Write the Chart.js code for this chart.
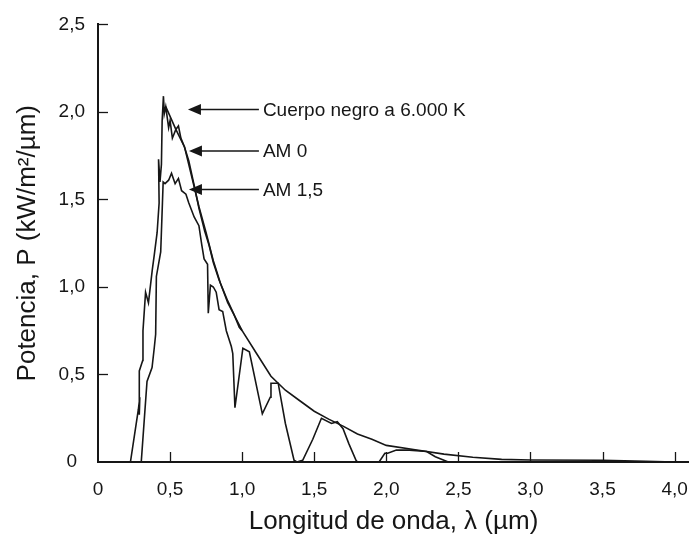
<!DOCTYPE html>
<html>
<head>
<meta charset="utf-8">
<script src="https://cdn.jsdelivr.net/npm/chart.js@4.4.1/dist/chart.umd.min.js"></script>
<style>
  body { margin: 0; background: #fff; }
  .wrap { width: 689px; height: 542px; }
</style>
</head>
<body>
<div class="wrap"><canvas id="chart"></canvas></div>
<script>
// wavelength (um) / power (kW/m2/um)
const bbWave = [0.47, 0.54, 0.60, 0.65, 0.70, 0.75, 0.80, 0.85, 0.90, 1.00, 1.10, 1.20, 1.30, 1.40, 1.50, 1.60, 1.70, 1.80, 1.90, 2.00, 2.20, 2.40, 2.60, 2.80, 3.00, 3.50, 3.80, 4.00];
const bbPower = [2.03, 1.90, 1.80, 1.63, 1.46, 1.31, 1.15, 1.02, 0.91, 0.75, 0.62, 0.49, 0.41, 0.35, 0.29, 0.245, 0.205, 0.16, 0.13, 0.095, 0.07, 0.045, 0.027, 0.015, 0.011, 0.01, 0.004, 0];

const am0Wave = [0.225, 0.28, 0.29, 0.288, 0.285, 0.31, 0.312, 0.33, 0.35, 0.377, 0.39, 0.41, 0.424, 0.42, 0.43, 0.44, 0.445, 0.454, 0.46, 0.47, 0.49, 0.50, 0.516, 0.54, 0.558, 0.575, 0.60, 0.63, 0.67, 0.70, 0.74, 0.77, 0.80, 0.84, 0.875, 0.90, 0.94, 0.98, 1.00];
const am0Power = [0, 0.30, 0.37, 0.27, 0.52, 0.58, 0.75, 0.97, 0.91, 1.10, 1.18, 1.31, 1.48, 1.73, 1.60, 1.70, 1.95, 2.09, 1.99, 2.03, 1.91, 1.95, 1.85, 1.90, 1.92, 1.85, 1.80, 1.72, 1.57, 1.45, 1.32, 1.24, 1.14, 1.04, 0.97, 0.92, 0.85, 0.77, 0.75];

const am15Wave = [0.30, 0.34, 0.375, 0.39, 0.40, 0.405, 0.435, 0.447, 0.452, 0.465, 0.49, 0.51, 0.535, 0.558, 0.58, 0.61, 0.63, 0.667, 0.70, 0.72, 0.736, 0.76, 0.765, 0.78, 0.80, 0.82, 0.84, 0.865, 0.89, 0.925, 0.935, 0.95, 1.005, 1.05, 1.14, 1.195, 1.20, 1.25, 1.30, 1.36, 1.38, 1.42, 1.49, 1.55, 1.62, 1.66, 1.70, 1.74, 1.79, 1.80, 1.95, 1.99, 2.01, 2.07, 2.16, 2.28, 2.34, 2.43];
const am15Power = [0, 0.46, 0.54, 0.65, 0.73, 1.06, 1.20, 1.48, 1.60, 1.59, 1.61, 1.65, 1.59, 1.62, 1.55, 1.53, 1.48, 1.40, 1.35, 1.24, 1.16, 1.13, 0.85, 1.01, 1.00, 0.97, 0.87, 0.86, 0.75, 0.66, 0.62, 0.31, 0.65, 0.63, 0.275, 0.37, 0.45, 0.45, 0.22, 0.01, 0, 0.01, 0.13, 0.25, 0.22, 0.23, 0.19, 0.105, 0.01, 0, 0, 0.05, 0.05, 0.068, 0.068, 0.06, 0.03, 0];

const seriesNames = ['Cuerpo negro a 6.000 K', 'AM 0', 'AM 1,5'];

const font = "'Liberation Sans', Arial, sans-serif";
const ink = '#161616';

function toPoints(xs, ys) {
  return xs.map((x, i) => ({ x: x, y: ys[i] }));
}

function fmt(v) {
  return v === 0 ? '0' : v.toFixed(1).replace('.', ',');
}

// arrows with labels, placed in data units
const notes = [
  { tip: 0.624, y: 2.014 },
  { tip: 0.631, y: 1.777 },
  { tip: 0.631, y: 1.557 }
];
const noteTextX = 1.144;

const notesPlugin = {
  id: 'notes',
  afterDatasetsDraw(chart) {
    const ctx = chart.ctx;
    const xs = chart.scales.x, ys = chart.scales.y;
    const tx = xs.getPixelForValue(noteTextX);
    ctx.save();
    ctx.strokeStyle = ink;
    ctx.fillStyle = ink;
    ctx.lineWidth = 1.5;
    notes.forEach((n, i) => {
      const px = xs.getPixelForValue(n.tip);
      const py = ys.getPixelForValue(n.y);
      ctx.beginPath();
      ctx.moveTo(px + 10, py);
      ctx.lineTo(tx - 4, py);
      ctx.stroke();
      ctx.beginPath();
      ctx.moveTo(px, py);
      ctx.lineTo(px + 13, py - 5.5);
      ctx.lineTo(px + 13, py + 5.5);
      ctx.closePath();
      ctx.fill();
      ctx.font = '19px ' + font;
      ctx.textBaseline = 'middle';
      ctx.textAlign = 'left';
      ctx.fillText(seriesNames[i], tx, py + 1);
    });
    ctx.restore();
  },
  afterDraw(chart) {
    // inward tick marks
    const ctx = chart.ctx;
    const a = chart.chartArea;
    ctx.save();
    ctx.strokeStyle = ink;
    ctx.lineWidth = 1.3;
    chart.scales.y.ticks.forEach((t) => {
      if (t.value === 0) return;
      const p = Math.round(chart.scales.y.getPixelForValue(t.value)) + 0.5;
      ctx.beginPath();
      ctx.moveTo(a.left, p);
      ctx.lineTo(a.left + 10, p);
      ctx.stroke();
    });
    chart.scales.x.ticks.forEach((t) => {
      if (t.value === 0) return;
      const p = Math.round(chart.scales.x.getPixelForValue(t.value)) + 0.5;
      ctx.beginPath();
      ctx.moveTo(p, a.bottom);
      ctx.lineTo(p, a.bottom - 10);
      ctx.stroke();
    });
    ctx.restore();
  }
};

const lineStyle = {
  showLine: true,
  borderColor: ink,
  borderWidth: 1.6,
  pointRadius: 0,
  tension: 0,
  fill: false
};

new Chart(document.getElementById('chart'), {
  type: 'scatter',
  data: {
    datasets: [
      Object.assign({ label: seriesNames[0], data: toPoints(bbWave, bbPower) }, lineStyle),
      Object.assign({ label: seriesNames[1], data: toPoints(am0Wave, am0Power) }, lineStyle),
      Object.assign({ label: seriesNames[2], data: toPoints(am15Wave, am15Power) }, lineStyle)
    ]
  },
  options: {
    responsive: true,
    maintainAspectRatio: false,
    animation: false,
    layout: { padding: { top: 19, right: 0, bottom: 0, left: 0 } },
    plugins: { legend: { display: false }, tooltip: { enabled: false } },
    scales: {
      x: {
        type: 'linear',
        min: 0,
        max: 4.1,
        afterFit: (axis) => {
          axis.height = 80;
          axis.paddingRight = 0;
          axis.paddingLeft = 0;
        },
        grid: { display: false, drawTicks: false },
        border: { display: true, color: ink, width: 2 },
        ticks: {
          stepSize: 0.5,
          includeBounds: false,
          padding: 16,
          color: ink,
          font: { family: font, size: 19 },
          callback: (v) => fmt(v)
        },
        title: {
          display: true,
          text: 'Longitud de onda, λ (µm)',
          color: ink,
          font: { family: font, size: 26 },
          padding: { top: 0, bottom: 5 }
        }
      },
      y: {
        min: 0,
        max: 2.5,
        afterFit: (axis) => { axis.width = 98; },
        grid: { display: false, drawTicks: false },
        border: { display: true, color: ink, width: 2 },
        ticks: {
          stepSize: 0.5,
          padding: 13,
          crossAlign: 'center',
          color: ink,
          font: { family: font, size: 19 },
          callback: (v) => fmt(v)
        },
        title: {
          display: true,
          text: 'Potencia, P (kW/m²/µm)',
          color: ink,
          font: { family: font, size: 26 },
          padding: { top: 12, bottom: 0 }
        }
      }
    }
  },
  plugins: [notesPlugin]
});
</script>
</body>
</html>
